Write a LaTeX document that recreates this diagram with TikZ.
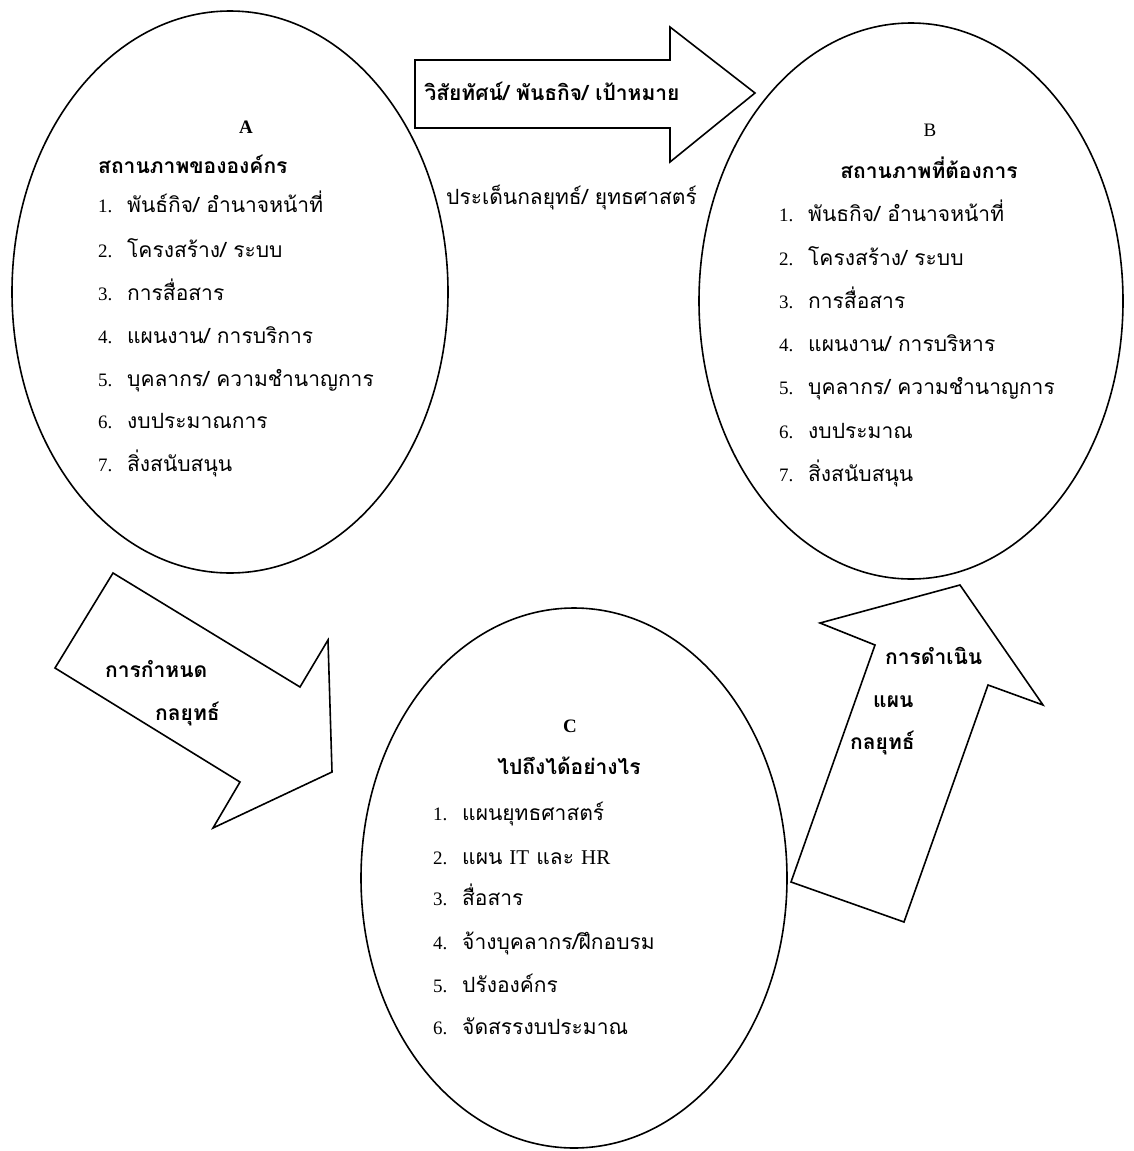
\documentclass[tikz,border=0pt]{standalone}
\usepackage{fontspec}
\setmainfont{Liberation Serif}
\newfontfamily\lat{Liberation Serif}
\newfontfamily\thai[Script=Thai]{Loma}
\usetikzlibrary{shapes.geometric}
\newcommand\tsz{\fontsize{21}{25}\selectfont}
\newcommand\num[1]{\makebox[29pt][l]{\lat\fontsize{19}{23}\selectfont #1}}
\begin{document}
\begin{tikzpicture}[x=1pt,y=-1pt,
  shapeline/.style={line width=1.6pt, line join=miter},
  ellbox/.style={draw, ellipse, line width=1.6pt, inner sep=0pt, outer sep=0pt},
  txt/.style={inner sep=0pt, anchor=base west, font=\thai\tsz},
  btxt/.style={inner sep=0pt, anchor=base west, font=\thai\bfseries\tsz},
  ttl/.style={inner sep=0pt, anchor=base, font=\thai\bfseries\tsz},
  letter/.style={inner sep=0pt, anchor=base, font=\lat\bfseries\fontsize{19}{23}\selectfont}
]
\useasboundingbox (0,0) rectangle (1134,1151);
% ellipses
\node[ellbox, minimum width=436pt, minimum height=562pt] (ellA) at (230,292) {};
\node[ellbox, minimum width=424pt, minimum height=556pt] (ellB) at (911,301) {};
\node[ellbox, minimum width=426pt, minimum height=540pt] (ellC) at (574,878) {};
% block arrows
\draw[shapeline] (415,60) -- (670,60) -- (670,27) -- (755,93) -- (670,162) -- (670,128) -- (415,128) -- cycle;
\draw[shapeline] (113,573) -- (300,687) -- (328,640) -- (332,772) -- (213,828) -- (240,782) -- (55,668) -- cycle;
\draw[shapeline] (791,882) -- (875,645) -- (820,623) -- (960,585) -- (1043,705) -- (988,685) -- (904,922) -- cycle;
% arrow labels
\node[ttl] (vis) at (552,100) {วิสัยทัศน์/ พันธกิจ/ เป้าหมาย};
\node[txt] (issue) at (446,204) {ประเด็นกลยุทธ์/ ยุทธศาสตร์};
\node[btxt] (det1) at (105,677) {การกำหนด};
\node[btxt] (det2) at (155,720) {กลยุทธ์};
\node[btxt] (imp1) at (885,664) {การดำเนิน};
\node[btxt] (imp2) at (873,707) {แผน};
\node[btxt] (imp3) at (850,749) {กลยุทธ์};
% A
\node[letter] (Ahead) at (246,133) {A};
\node[btxt] (Attl) at (98,173) {สถานภาพขององค์กร};
\node[txt] (a1) at (98,212) {\num{1.}พันธ์กิจ/ อำนาจหน้าที่};
\node[txt] (a2) at (98,257) {\num{2.}โครงสร้าง/ ระบบ};
\node[txt] (a3) at (98,300) {\num{3.}การสื่อสาร};
\node[txt] (a4) at (98,343) {\num{4.}แผนงาน/ การบริการ};
\node[txt] (a5) at (98,386) {\num{5.}บุคลากร/ ความชำนาญการ};
\node[txt] (a6) at (98,428) {\num{6.}งบประมาณการ};
\node[txt] (a7) at (98,471) {\num{7.}สิ่งสนับสนุน};
% B
\node[letter, font=\lat\fontsize{19}{23}\selectfont] (Bhead) at (930,136) {B};
\node[ttl] (Bttl) at (929,178) {สถานภาพที่ต้องการ};
\node[txt] (b1) at (779,221) {\num{1.}พันธกิจ/ อำนาจหน้าที่};
\node[txt] (b2) at (779,265) {\num{2.}โครงสร้าง/ ระบบ};
\node[txt] (b3) at (779,308) {\num{3.}การสื่อสาร};
\node[txt] (b4) at (779,351) {\num{4.}แผนงาน/ การบริหาร};
\node[txt] (b5) at (779,394) {\num{5.}บุคลากร/ ความชำนาญการ};
\node[txt] (b6) at (779,438) {\num{6.}งบประมาณ};
\node[txt] (b7) at (779,481) {\num{7.}สิ่งสนับสนุน};
% C
\node[letter] (Chead) at (570,732) {C};
\node[ttl] (Cttl) at (569,774) {ไปถึงได้อย่างไร};
\node[txt] (c1) at (433,820) {\num{1.}แผนยุทธศาสตร์};
\node[txt] (c2) at (433,864) {\num{2.}แผน {\lat IT} และ {\lat HR}};
\node[txt] (c3) at (433,905) {\num{3.}สื่อสาร};
\node[txt] (c4) at (433,949) {\num{4.}จ้างบุคลากร/ฝึกอบรม};
\node[txt] (c5) at (433,992) {\num{5.}ปรังองค์กร};
\node[txt] (c6) at (433,1034) {\num{6.}จัดสรรงบประมาณ};
\end{tikzpicture}
\end{document}
